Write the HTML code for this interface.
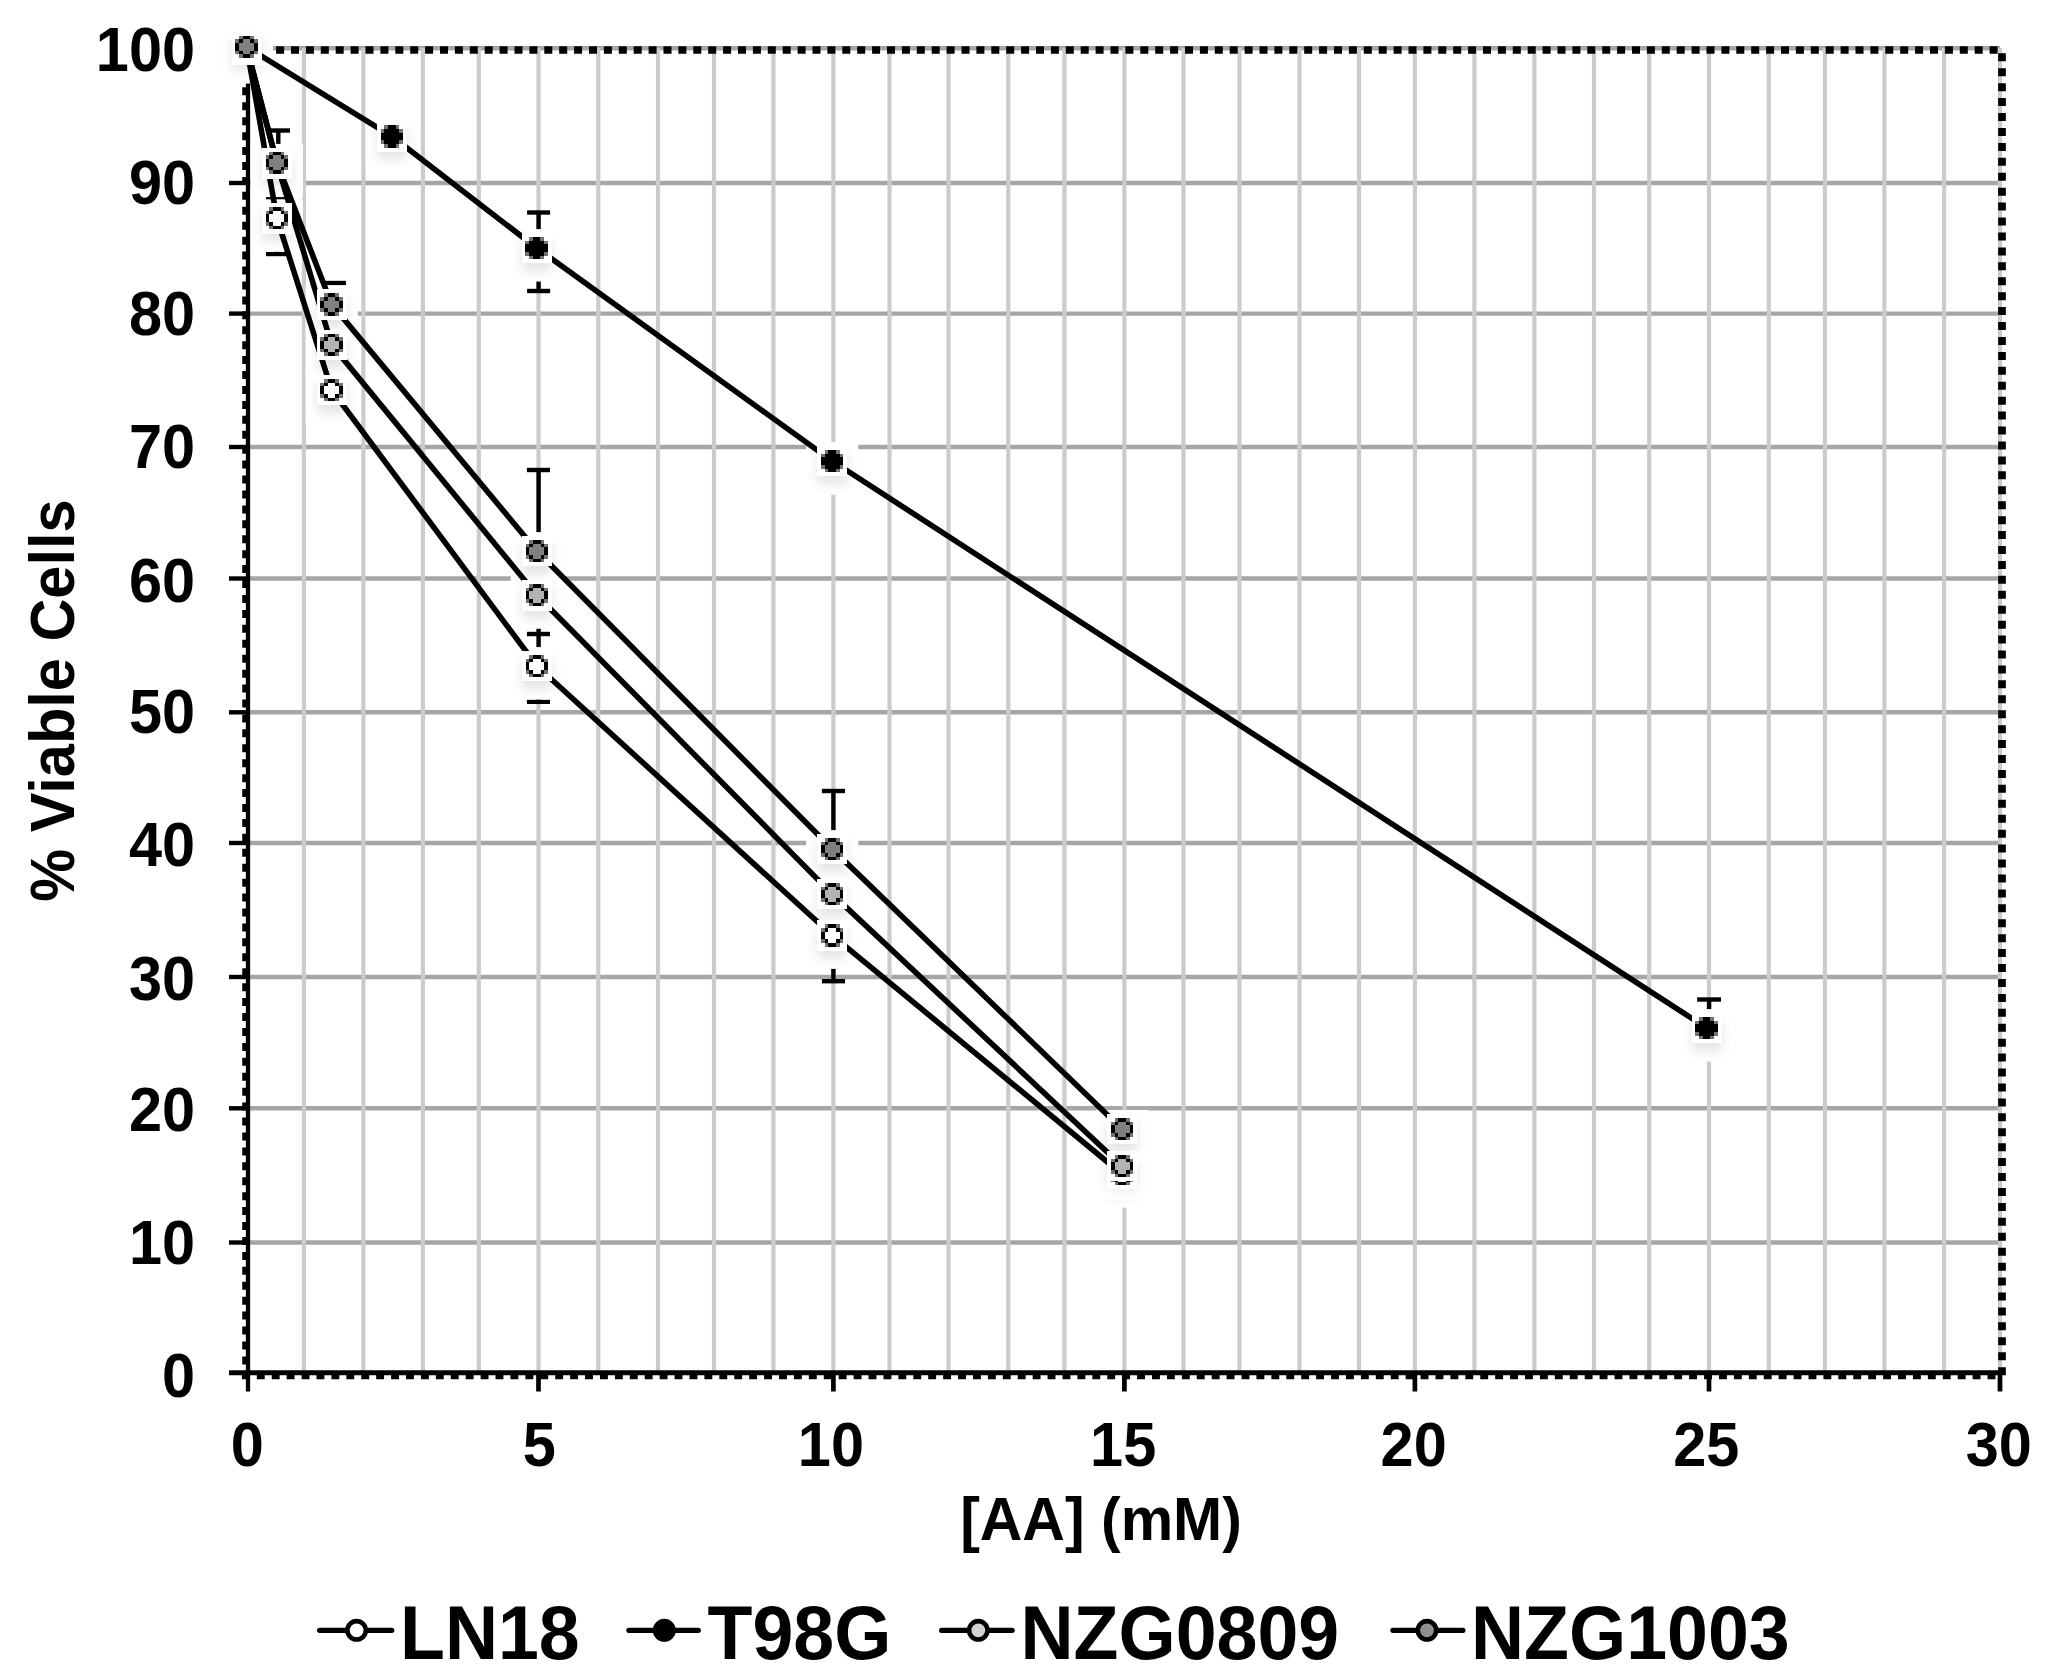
<!DOCTYPE html>
<html lang="en"><head><meta charset="utf-8"><title>% Viable Cells vs [AA] (mM)</title>
<style>
html,body{margin:0;padding:0;background:#fff;}
body{width:2050px;height:1676px;overflow:hidden;}
svg{display:block;}
text{font-family:"Liberation Sans",Arial,Helvetica,sans-serif;font-weight:bold;fill:#000;}
.tk{font-size:59.5px;}
.ttl{font-size:59px;}
.lg{font-size:73.5px;}
</style></head><body>
<svg width="2050" height="1676" viewBox="0 0 2050 1676">
<defs>
<filter id="sh" x="-37.5%" y="-37.5%" width="175%" height="175%"><feGaussianBlur stdDeviation="5.5"/></filter>
<filter id="px" x="-10%" y="-10%" width="120%" height="120%"><feGaussianBlur stdDeviation="0.55"/></filter>
<g id="sbox"><rect x="-26.1" y="-18.9" width="52.2" height="52.5" fill="#fff"/><rect x="-15" y="-7" width="30" height="30" fill="#000" fill-opacity="0.105" filter="url(#sh)"/></g>
<g id="m0" shape-rendering="crispEdges"><rect x="-15" y="-15" width="30" height="30.4" fill="#fff"/><rect x="-7.50" y="-11.25" width="3.75" height="3.75" fill="#727272"/><rect x="3.75" y="-11.25" width="3.75" height="3.75" fill="#727272"/><rect x="-11.25" y="-7.50" width="3.75" height="3.75" fill="#727272"/><rect x="7.50" y="-7.50" width="3.75" height="3.75" fill="#727272"/><rect x="-11.25" y="3.75" width="3.75" height="3.75" fill="#727272"/><rect x="7.50" y="3.75" width="3.75" height="3.75" fill="#727272"/><rect x="-7.50" y="7.50" width="3.75" height="3.75" fill="#727272"/><rect x="3.75" y="7.50" width="3.75" height="3.75" fill="#727272"/><rect x="-3.75" y="-11.25" width="7.50" height="22.50" fill="#000"/><rect x="-7.50" y="-7.50" width="15.00" height="15.00" fill="#000"/><rect x="-11.25" y="-3.75" width="22.50" height="7.50" fill="#000"/><rect x="-3.75" y="-7.50" width="7.50" height="15.00" fill="#ffffff"/><rect x="-7.50" y="-3.75" width="15.00" height="7.50" fill="#ffffff"/></g>
<g id="m1" shape-rendering="crispEdges"><rect x="-15" y="-15" width="30" height="30.4" fill="#fff"/><rect x="-7.50" y="-11.25" width="3.75" height="3.75" fill="#727272"/><rect x="3.75" y="-11.25" width="3.75" height="3.75" fill="#727272"/><rect x="-11.25" y="-7.50" width="3.75" height="3.75" fill="#727272"/><rect x="7.50" y="-7.50" width="3.75" height="3.75" fill="#727272"/><rect x="-11.25" y="3.75" width="3.75" height="3.75" fill="#727272"/><rect x="7.50" y="3.75" width="3.75" height="3.75" fill="#727272"/><rect x="-7.50" y="7.50" width="3.75" height="3.75" fill="#727272"/><rect x="3.75" y="7.50" width="3.75" height="3.75" fill="#727272"/><rect x="-3.75" y="-11.25" width="7.50" height="22.50" fill="#000"/><rect x="-7.50" y="-7.50" width="15.00" height="15.00" fill="#000"/><rect x="-11.25" y="-3.75" width="22.50" height="7.50" fill="#000"/><rect x="-3.75" y="-7.50" width="7.50" height="15.00" fill="#000000"/><rect x="-7.50" y="-3.75" width="15.00" height="7.50" fill="#000000"/></g>
<g id="m2" shape-rendering="crispEdges"><rect x="-15" y="-15" width="30" height="30.4" fill="#fff"/><rect x="-7.50" y="-11.25" width="3.75" height="3.75" fill="#727272"/><rect x="3.75" y="-11.25" width="3.75" height="3.75" fill="#727272"/><rect x="-11.25" y="-7.50" width="3.75" height="3.75" fill="#727272"/><rect x="7.50" y="-7.50" width="3.75" height="3.75" fill="#727272"/><rect x="-11.25" y="3.75" width="3.75" height="3.75" fill="#727272"/><rect x="7.50" y="3.75" width="3.75" height="3.75" fill="#727272"/><rect x="-7.50" y="7.50" width="3.75" height="3.75" fill="#727272"/><rect x="3.75" y="7.50" width="3.75" height="3.75" fill="#727272"/><rect x="-3.75" y="-11.25" width="7.50" height="22.50" fill="#000"/><rect x="-7.50" y="-7.50" width="15.00" height="15.00" fill="#000"/><rect x="-11.25" y="-3.75" width="22.50" height="7.50" fill="#000"/><rect x="-3.75" y="-7.50" width="7.50" height="15.00" fill="#b2b2b2"/><rect x="-7.50" y="-3.75" width="15.00" height="7.50" fill="#b2b2b2"/></g>
<g id="m3" shape-rendering="crispEdges"><rect x="-15" y="-15" width="30" height="30.4" fill="#fff"/><rect x="-7.50" y="-11.25" width="3.75" height="3.75" fill="#727272"/><rect x="3.75" y="-11.25" width="3.75" height="3.75" fill="#727272"/><rect x="-11.25" y="-7.50" width="3.75" height="3.75" fill="#727272"/><rect x="7.50" y="-7.50" width="3.75" height="3.75" fill="#727272"/><rect x="-11.25" y="3.75" width="3.75" height="3.75" fill="#727272"/><rect x="7.50" y="3.75" width="3.75" height="3.75" fill="#727272"/><rect x="-7.50" y="7.50" width="3.75" height="3.75" fill="#727272"/><rect x="3.75" y="7.50" width="3.75" height="3.75" fill="#727272"/><rect x="-3.75" y="-11.25" width="7.50" height="22.50" fill="#000"/><rect x="-7.50" y="-7.50" width="15.00" height="15.00" fill="#000"/><rect x="-11.25" y="-3.75" width="22.50" height="7.50" fill="#000"/><rect x="-3.75" y="-7.50" width="7.50" height="15.00" fill="#808080"/><rect x="-7.50" y="-3.75" width="15.00" height="7.50" fill="#808080"/></g>
</defs>
<rect x="0" y="0" width="2050" height="1676" fill="#fff"/>
<g id="hgrid" stroke="#a6a6a6" stroke-width="4.4" fill="none">
<line x1="248" y1="1242.5" x2="2000" y2="1242.5"/>
<line x1="248" y1="1108.3" x2="2000" y2="1108.3"/>
<line x1="248" y1="977.0" x2="2000" y2="977.0"/>
<line x1="248" y1="843.0" x2="2000" y2="843.0"/>
<line x1="248" y1="712.3" x2="2000" y2="712.3"/>
<line x1="248" y1="578.5" x2="2000" y2="578.5"/>
<line x1="248" y1="447.0" x2="2000" y2="447.0"/>
<line x1="248" y1="313.6" x2="2000" y2="313.6"/>
<line x1="248" y1="183.0" x2="2000" y2="183.0"/>
<line x1="248" y1="48.3" x2="2000" y2="48.3"/>
</g>
<g id="vgrid" stroke="#cbcbcb" stroke-width="4.2" fill="none">
<line x1="303.9" y1="48" x2="303.9" y2="1372" />
<line x1="363.4" y1="48" x2="363.4" y2="1372" />
<line x1="422.9" y1="48" x2="422.9" y2="1372" />
<line x1="478.8" y1="48" x2="478.8" y2="1372" />
<line x1="538.5" y1="48" x2="538.5" y2="1372" />
<line x1="598.3" y1="48" x2="598.3" y2="1372" />
<line x1="658.0" y1="48" x2="658.0" y2="1372" />
<line x1="714.0" y1="48" x2="714.0" y2="1372" />
<line x1="773.4" y1="48" x2="773.4" y2="1372" />
<line x1="833.4" y1="48" x2="833.4" y2="1372" />
<line x1="889.5" y1="48" x2="889.5" y2="1372" />
<line x1="948.5" y1="48" x2="948.5" y2="1372" />
<line x1="1008.3" y1="48" x2="1008.3" y2="1372" />
<line x1="1064.4" y1="48" x2="1064.4" y2="1372" />
<line x1="1124.4" y1="48" x2="1124.4" y2="1372" />
<line x1="1183.5" y1="48" x2="1183.5" y2="1372" />
<line x1="1239.5" y1="48" x2="1239.5" y2="1372" />
<line x1="1299.5" y1="48" x2="1299.5" y2="1372" />
<line x1="1359.0" y1="48" x2="1359.0" y2="1372" />
<line x1="1414.9" y1="48" x2="1414.9" y2="1372" />
<line x1="1474.4" y1="48" x2="1474.4" y2="1372" />
<line x1="1534.4" y1="48" x2="1534.4" y2="1372" />
<line x1="1594.0" y1="48" x2="1594.0" y2="1372" />
<line x1="1649.2" y1="48" x2="1649.2" y2="1372" />
<line x1="1709.0" y1="48" x2="1709.0" y2="1372" />
<line x1="1768.8" y1="48" x2="1768.8" y2="1372" />
<line x1="1824.9" y1="48" x2="1824.9" y2="1372" />
<line x1="1884.4" y1="48" x2="1884.4" y2="1372" />
<line x1="1944.1" y1="48" x2="1944.1" y2="1372" />
<line x1="2000.0" y1="48" x2="2000.0" y2="1372" />
</g>
<g id="border" stroke="#000" stroke-width="7.7" fill="none" stroke-dasharray="8 6.9">
<line x1="246.3" y1="50" x2="2002" y2="50"/>
<line x1="2002" y1="50" x2="2002" y2="1379.2" stroke-dasharray="8 6.93" stroke-dashoffset="-3.3"/>
<line x1="246.1" y1="50" x2="246.1" y2="1379" stroke-dasharray="8 6.93" stroke-dashoffset="-7.5"/>
<line x1="241.9" y1="1375.3" x2="2000" y2="1375.3" stroke-dasharray="7.9 7.02"/>
</g>
<g id="axes" stroke="#000" fill="none">
<line x1="248" y1="50" x2="248" y2="1391.5" stroke-width="4.3"/>
<line x1="229" y1="1372.7" x2="2002" y2="1372.7" stroke-width="5"/>
<line x1="229" y1="1242.5" x2="248" y2="1242.5" stroke-width="4.4"/>
<line x1="229" y1="1108.3" x2="248" y2="1108.3" stroke-width="4.4"/>
<line x1="229" y1="977.0" x2="248" y2="977.0" stroke-width="4.4"/>
<line x1="229" y1="843.0" x2="248" y2="843.0" stroke-width="4.4"/>
<line x1="229" y1="712.3" x2="248" y2="712.3" stroke-width="4.4"/>
<line x1="229" y1="578.5" x2="248" y2="578.5" stroke-width="4.4"/>
<line x1="229" y1="447.0" x2="248" y2="447.0" stroke-width="4.4"/>
<line x1="229" y1="313.6" x2="248" y2="313.6" stroke-width="4.4"/>
<line x1="229" y1="183.0" x2="248" y2="183.0" stroke-width="4.4"/>
<line x1="538.5" y1="1372" x2="538.5" y2="1391.5" stroke-width="4.7"/>
<line x1="833.4" y1="1372" x2="833.4" y2="1391.5" stroke-width="4.7"/>
<line x1="1124.4" y1="1372" x2="1124.4" y2="1391.5" stroke-width="4.7"/>
<line x1="1414.9" y1="1372" x2="1414.9" y2="1391.5" stroke-width="4.7"/>
<line x1="1709.0" y1="1372" x2="1709.0" y2="1391.5" stroke-width="4.7"/>
<line x1="2000.0" y1="1372" x2="2000.0" y2="1391.5" stroke-width="4.7"/>
</g>
<g id="errorbars" stroke="#000" stroke-width="4.4" fill="none">
<line x1="278.3" y1="130.5" x2="278.3" y2="162.8"/>
<line x1="267.0" y1="130.5" x2="290.0" y2="130.5"/>
<line x1="267.0" y1="146.2" x2="290.0" y2="146.2"/>
<line x1="277.2" y1="198.0" x2="277.2" y2="254.0"/>
<line x1="266.0" y1="198.0" x2="288.0" y2="198.0"/>
<line x1="266.0" y1="254.0" x2="288.0" y2="254.0"/>
<line x1="334.5" y1="283.0" x2="334.5" y2="284.5"/>
<line x1="323.0" y1="283.0" x2="346.0" y2="283.0"/>
<line x1="538.6" y1="212.5" x2="538.6" y2="291.0"/>
<line x1="527.1" y1="212.5" x2="550.1" y2="212.5"/>
<line x1="527.1" y1="291.0" x2="550.1" y2="291.0"/>
<line x1="538.6" y1="470.0" x2="538.6" y2="551.0"/>
<line x1="526.9" y1="470.0" x2="550.0" y2="470.0"/>
<line x1="538.6" y1="595.0" x2="538.6" y2="701.8"/>
<line x1="526.9" y1="634.0" x2="550.0" y2="634.0"/>
<line x1="526.9" y1="701.8" x2="550.0" y2="701.8"/>
<line x1="833.4" y1="791.0" x2="833.4" y2="849.0"/>
<line x1="821.9" y1="791.0" x2="845.0" y2="791.0"/>
<line x1="833.4" y1="935.0" x2="833.4" y2="981.2"/>
<line x1="821.9" y1="981.2" x2="845.0" y2="981.2"/>
<line x1="1709.1" y1="999.5" x2="1709.1" y2="1028.0"/>
<line x1="1697.1" y1="999.5" x2="1721.0" y2="999.5"/>
</g>
<g id="shadows">
<use href="#sbox" x="246.6" y="50.0"/>
<use href="#sbox" x="246.6" y="46.9"/>
<use href="#sbox" x="276.9" y="218.2"/>
<use href="#sbox" x="331.7" y="390.0"/>
<use href="#sbox" x="536.9" y="666.0"/>
<use href="#sbox" x="832.2" y="935.3"/>
<use href="#sbox" x="1122.0" y="1174.0"/>
<use href="#sbox" x="391.8" y="136.3"/>
<use href="#sbox" x="536.7" y="248.0"/>
<use href="#sbox" x="832.2" y="461.0"/>
<use href="#sbox" x="1706.7" y="1028.0"/>
<use href="#sbox" x="276.9" y="163.5"/>
<use href="#sbox" x="331.7" y="344.9"/>
<use href="#sbox" x="536.9" y="595.2"/>
<use href="#sbox" x="832.2" y="894.1"/>
<use href="#sbox" x="1122.0" y="1166.0"/>
<use href="#sbox" x="276.9" y="162.8"/>
<use href="#sbox" x="331.7" y="304.4"/>
<use href="#sbox" x="536.9" y="551.0"/>
<use href="#sbox" x="832.2" y="849.0"/>
<use href="#sbox" x="1122.0" y="1129.0"/>
</g>
<g id="lines" stroke="#000" stroke-width="5.6" fill="none" stroke-linejoin="round">
<polyline points="246.6,46.9 276.9,218.2 331.7,390.0 536.9,666.0 832.2,935.3 1122.0,1174.0"/>
<polyline points="246.6,46.9 391.8,136.3 536.7,248.0 832.2,461.0 1706.7,1028.0"/>
<polyline points="246.6,46.9 276.9,163.5 331.7,344.9 536.9,595.2 832.2,894.1 1122.0,1166.0"/>
<polyline points="246.6,46.9 276.9,162.8 331.7,304.4 536.9,551.0 832.2,849.0 1122.0,1129.0"/>
</g>
<g id="markers" filter="url(#px)">
<use href="#m0" x="246.6" y="50.0"/>
<use href="#m0" x="276.9" y="218.2"/>
<use href="#m0" x="331.7" y="390.0"/>
<use href="#m0" x="536.9" y="666.0"/>
<use href="#m0" x="832.2" y="935.3"/>
<use href="#m0" x="1122.0" y="1174.0"/>
<use href="#m1" x="246.6" y="50.0"/>
<use href="#m1" x="391.8" y="136.3"/>
<use href="#m1" x="536.7" y="248.0"/>
<use href="#m1" x="832.2" y="461.0"/>
<use href="#m1" x="1706.7" y="1028.0"/>
<use href="#m2" x="246.6" y="50.0"/>
<use href="#m2" x="276.9" y="163.5"/>
<use href="#m2" x="331.7" y="344.9"/>
<use href="#m2" x="536.9" y="595.2"/>
<use href="#m2" x="832.2" y="894.1"/>
<use href="#m2" x="1122.0" y="1166.0"/>
<use href="#m3" x="246.6" y="46.9"/>
<use href="#m3" x="276.9" y="162.8"/>
<use href="#m3" x="331.7" y="304.4"/>
<use href="#m3" x="536.9" y="551.0"/>
<use href="#m3" x="832.2" y="849.0"/>
<use href="#m3" x="1122.0" y="1129.0"/>
</g>
<g id="ylabels" class="tk" text-anchor="end">
<text transform="translate(195.1 71.0) scale(1 1.047)">100</text>
<text transform="translate(195.1 203.6) scale(1 1.047)">90</text>
<text transform="translate(195.1 335.4) scale(1 1.047)">80</text>
<text transform="translate(195.1 467.7) scale(1 1.047)">70</text>
<text transform="translate(195.1 602.2) scale(1 1.047)">60</text>
<text transform="translate(195.1 733.2) scale(1 1.047)">50</text>
<text transform="translate(195.1 865.7) scale(1 1.047)">40</text>
<text transform="translate(195.1 1000.4) scale(1 1.047)">30</text>
<text transform="translate(195.1 1130.8) scale(1 1.047)">20</text>
<text transform="translate(195.1 1263.7) scale(1 1.047)">10</text>
<text transform="translate(195.1 1396.6) scale(1 1.047)">0</text>
</g>
<g id="xlabels" class="tk" text-anchor="middle">
<text transform="translate(247.3 1466.2) scale(1 1.047)">0</text>
<text transform="translate(539.2 1466.2) scale(1 1.047)">5</text>
<text transform="translate(830.9 1466.2) scale(1 1.047)">10</text>
<text transform="translate(1123.2 1466.2) scale(1 1.047)">15</text>
<text transform="translate(1413.7 1466.2) scale(1 1.047)">20</text>
<text transform="translate(1706.3 1466.2) scale(1 1.047)">25</text>
<text transform="translate(1998.8 1466.2) scale(1 1.047)">30</text>
</g>
<text class="ttl" text-anchor="middle" transform="translate(1101 1539.8) scale(1 1.047)">[AA] (mM)</text>
<text class="tk" text-anchor="middle" transform="translate(74.3 700.6) rotate(-90) scale(1 1.047)">% Viable Cells</text>
<g id="legend">
<line x1="319.6" y1="1630.3" x2="391.8" y2="1630.3" stroke="#000" stroke-width="5.2" stroke-linecap="round"/>
<circle cx="356.6" cy="1630.3" r="9.2" fill="#ffffff" stroke="#000" stroke-width="4.6"/>
<text class="lg" transform="translate(400.0 1658.8) scale(1 1.03)">LN18</text>
<line x1="628.9" y1="1630.3" x2="698.3" y2="1630.3" stroke="#000" stroke-width="5.2" stroke-linecap="round"/>
<circle cx="664.3" cy="1630.3" r="9.2" fill="#000000" stroke="#000" stroke-width="4.6"/>
<text class="lg" transform="translate(707.5 1658.8) scale(1 1.03)">T98G</text>
<line x1="941.6" y1="1630.3" x2="1012.2" y2="1630.3" stroke="#000" stroke-width="5.2" stroke-linecap="round"/>
<circle cx="978.3" cy="1630.3" r="9.2" fill="#d2d2d2" stroke="#000" stroke-width="4.6"/>
<text class="lg" transform="translate(1020.5 1658.8) scale(1 1.03)">NZG0809</text>
<line x1="1392.9" y1="1630.3" x2="1462.9" y2="1630.3" stroke="#000" stroke-width="5.2" stroke-linecap="round"/>
<circle cx="1427.0" cy="1630.3" r="9.2" fill="#909090" stroke="#000" stroke-width="4.6"/>
<text class="lg" transform="translate(1471.0 1658.8) scale(1 1.03)">NZG1003</text>
</g>
</svg>
</body></html>
